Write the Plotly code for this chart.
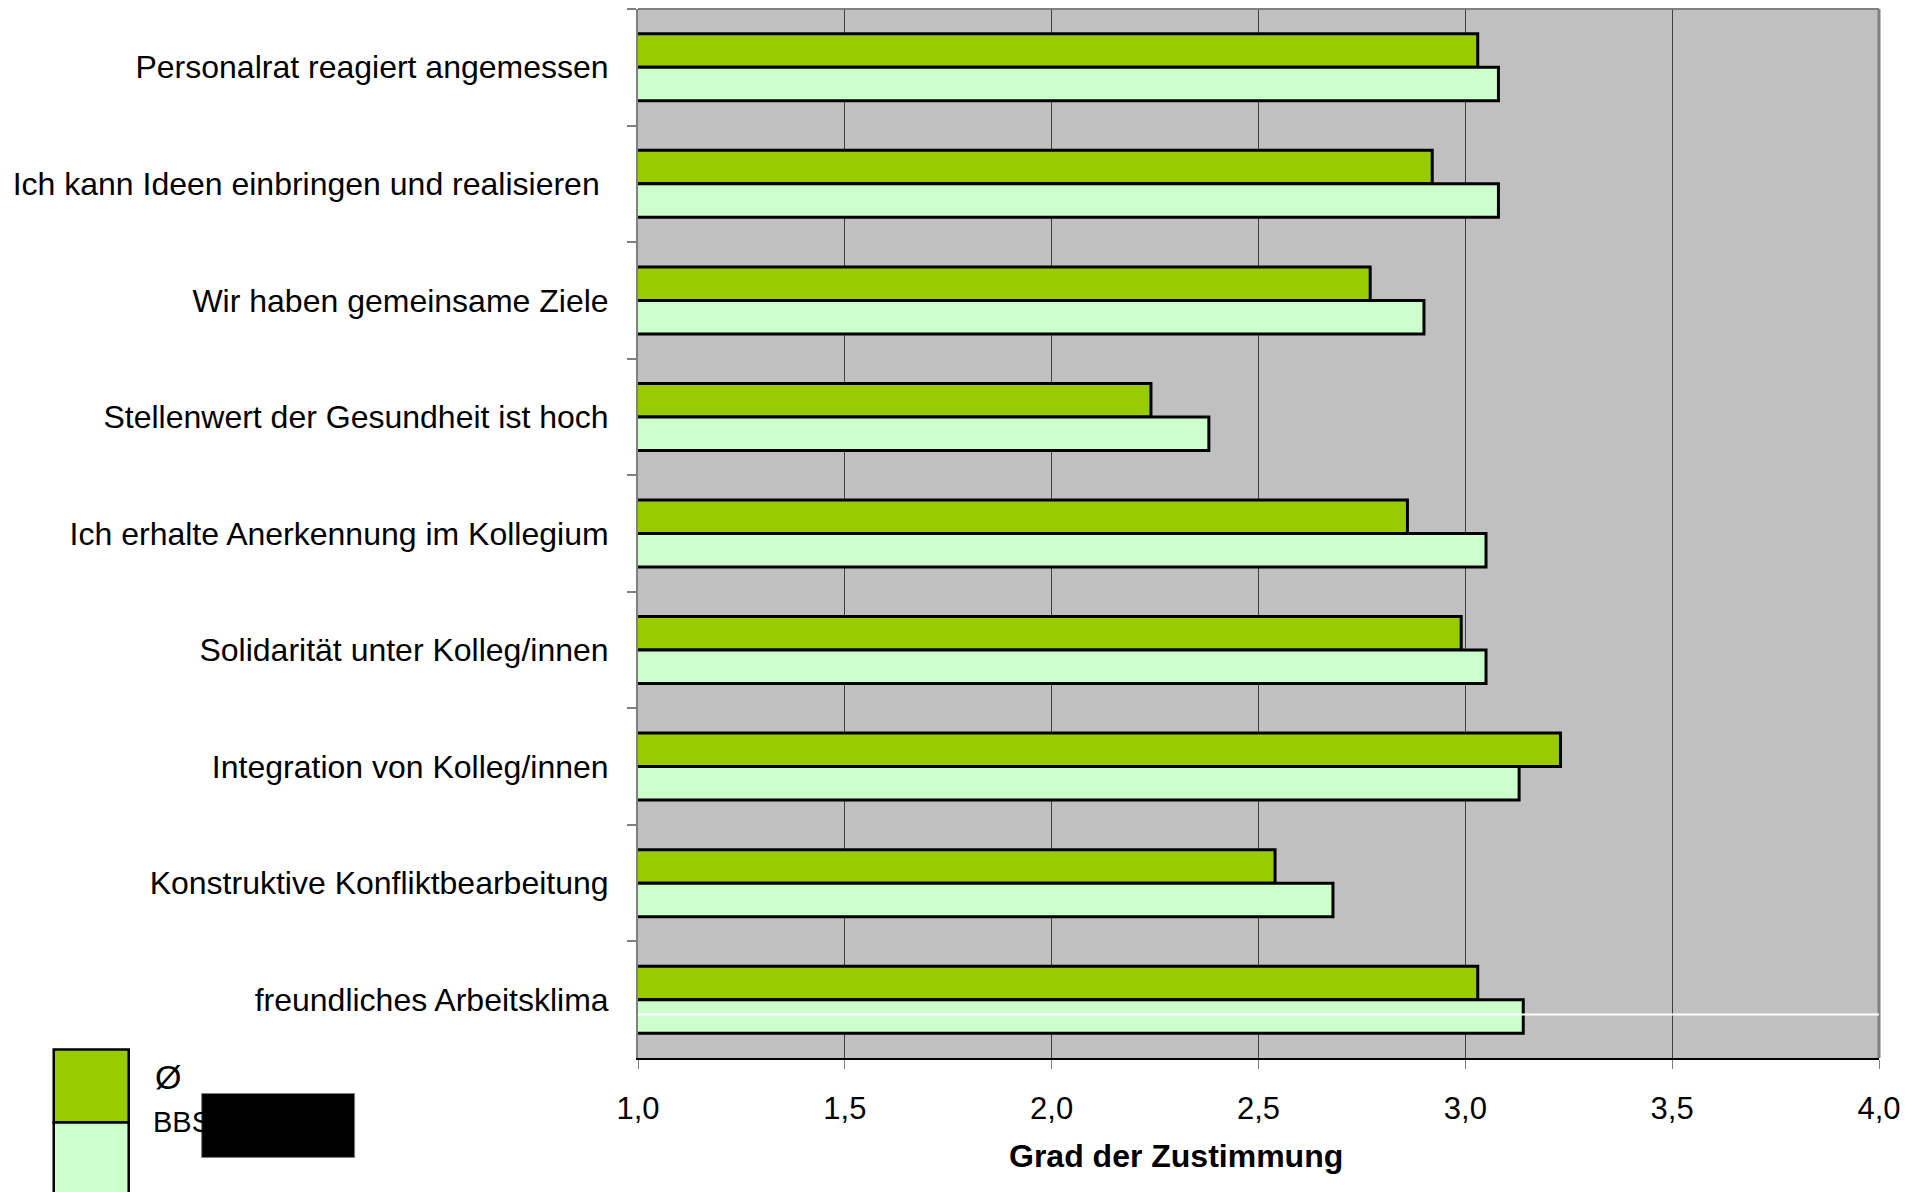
import plotly.graph_objects as go

categories = [
    "Personalrat reagiert angemessen",
    "Ich kann Ideen einbringen und realisieren ",
    "Wir haben gemeinsame Ziele",
    "Stellenwert der Gesundheit ist hoch",
    "Ich erhalte Anerkennung im Kollegium",
    "Solidarität unter Kolleg/innen",
    "Integration von Kolleg/innen",
    "Konstruktive Konfliktbearbeitung",
    "freundliches Arbeitsklima",
]
avg_values = [3.03, 2.92, 2.77, 2.24, 2.86, 2.99, 3.23, 2.54, 3.03]
bbs_values = [3.08, 3.08, 2.90, 2.38, 3.05, 3.05, 3.13, 2.68, 3.14]
series_names = ["Ø", "BBS"]
x_ticks = [1.0, 1.5, 2.0, 2.5, 3.0, 3.5, 4.0]
x_title = "Grad der Zustimmung"

DARK = "#99CC00"
LIGHT = "#CCFFCC"
FONT = "Liberation Sans, Arial, sans-serif"

fig = go.Figure()
fig.add_trace(go.Bar(y=categories, x=avg_values, orientation="h", name=series_names[0],
                     marker=dict(color=DARK, line=dict(color="#000000", width=3)), showlegend=False))
fig.add_trace(go.Bar(y=categories, x=bbs_values, orientation="h", name=series_names[1],
                     marker=dict(color=LIGHT, line=dict(color="#000000", width=3)), showlegend=False))

# page body has an 8px margin; work in page coordinates and convert
OFF = 8
W, H = 1924 - OFF, 1192 - OFF
PL, PR, PT, PB = 637.5, 1879, 9, 1058.5  # plot area in page pixels
L = PL - OFF
T = PT - OFF
R = W - (PR - OFF)
B = H - (PB - OFF)
pw = PR - PL
ph = PB - PT

def px(x):
    return (x - PL) / pw

def py(y):
    return (PB - y) / ph

shapes = [
    dict(type="line", xref="paper", yref="paper", x0=0, x1=1, y0=1, y1=1,
         line=dict(color="#808080", width=2)),
    dict(type="line", xref="paper", yref="paper", x0=1, x1=1, y0=0, y1=1,
         line=dict(color="#808080", width=3)),
    dict(type="line", xref="paper", yref="paper", x0=0, x1=1, y0=py(1015), y1=py(1015),
         line=dict(color="#FFFFFF", width=2)),
    dict(type="rect", xref="paper", yref="paper", x0=px(53), x1=px(128), y0=py(1123), y1=py(1050),
         fillcolor=DARK, line=dict(color="#000000", width=2.5)),
    dict(type="rect", xref="paper", yref="paper", x0=px(53), x1=px(128), y0=py(1205), y1=py(1123),
         fillcolor=LIGHT, line=dict(color="#000000", width=2.5)),
]

annotations = [
    dict(text=series_names[0], xref="paper", yref="paper", x=px(152), y=py(1078),
         xanchor="left", yanchor="middle", showarrow=False,
         font=dict(family=FONT, size=34, color="#000000")),
    dict(text=series_names[1], xref="paper", yref="paper", x=px(150), y=py(1123),
         xanchor="left", yanchor="middle", showarrow=False,
         font=dict(family=FONT, size=29, color="#000000")),
    dict(text="<b>" + x_title + "</b>", xref="paper", yref="paper", x=px(1176), y=py(1157),
         xanchor="center", yanchor="middle", showarrow=False,
         font=dict(family=FONT, size=32, color="#000000")),
]

shapes.append(dict(type="rect", xref="paper", yref="paper", x0=px(201), x1=px(354),
                   y0=py(1158), y1=py(1094), fillcolor="#000000",
                   line=dict(color="#808080", width=1)))

fig.update_layout(
    width=W, height=H,
    margin=dict(l=L, r=R, t=T, b=B, pad=0),
    paper_bgcolor="#FFFFFF",
    plot_bgcolor="#C0C0C0",
    barmode="group",
    bargap=0.425,
    bargroupgap=0,
    separators=",.",
    font=dict(family=FONT, color="#000000"),
    shapes=shapes,
    annotations=annotations,
    xaxis=dict(
        range=[1, 4],
        tickvals=x_ticks,
        tickformat=".1f",
        showgrid=True, gridcolor="#404040", gridwidth=1,
        zeroline=False,
        showline=True, linecolor="#000000", linewidth=2,
        ticks="outside", ticklen=9, tickcolor="#808080", tickwidth=1,
        tickfont=dict(family=FONT, size=31, color="#000000"),
        ticklabelstandoff=13,
        fixedrange=True,
    ),
    yaxis=dict(
        type="category",
        autorange="reversed",
        showgrid=False,
        showline=True, linecolor="#808080", linewidth=2,
        ticks="outside", tickson="boundaries", ticklen=9, tickcolor="#808080", tickwidth=2,
        tickfont=dict(family=FONT, size=32, color="#000000"),
        ticklabelstandoff=21,
        fixedrange=True,
    ),
)

fig.write_html("out.html")
